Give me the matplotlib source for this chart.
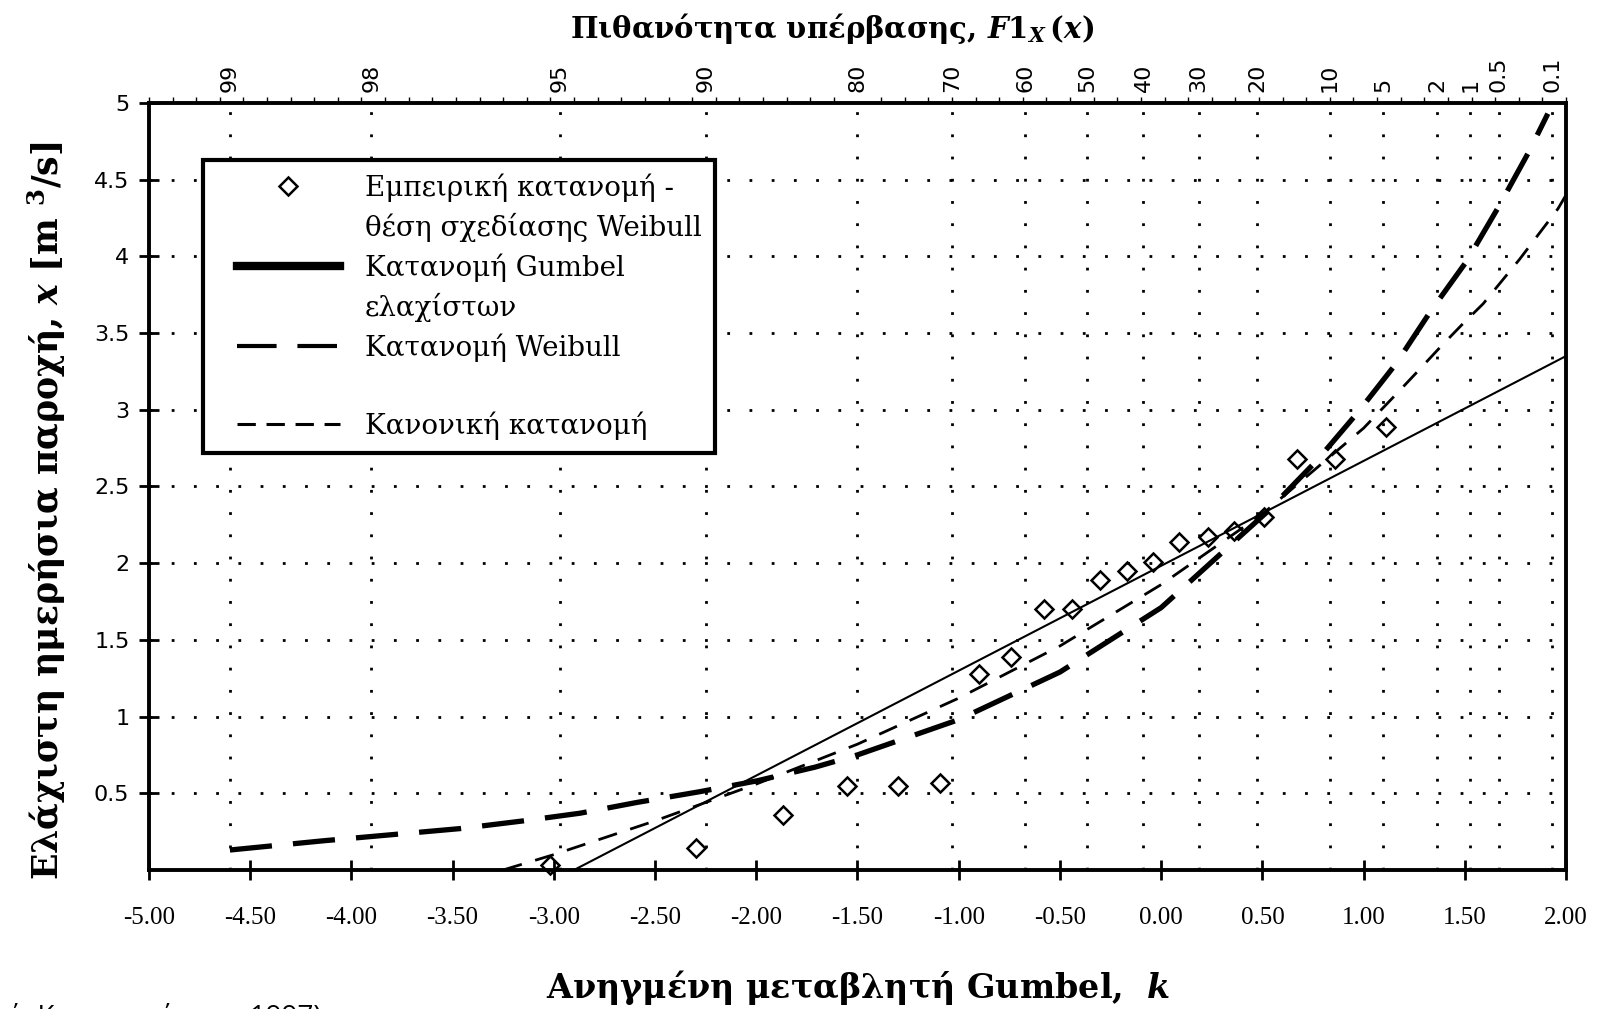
import matplotlib.pyplot as plt
import numpy as np
from matplotlib.lines import Line2D
from matplotlib.legend_handler import HandlerLine2D

plt.rcParams['axes.unicode_minus'] = False
plt.rcParams['mathtext.fontset'] = 'custom'
plt.rcParams['mathtext.rm'] = 'DejaVu Serif:bold'
plt.rcParams['mathtext.it'] = 'DejaVu Serif:italic:bold'
plt.rcParams['mathtext.bf'] = 'DejaVu Serif:bold'

# empirical distribution, Weibull plotting position (Gumbel reduced variate k)
emp_k = [-3.02, -2.30, -1.87, -1.55, -1.30, -1.09, -0.90, -0.74, -0.58, -0.44,
         -0.30, -0.17, -0.04, 0.09, 0.23, 0.36, 0.51, 0.67, 0.86, 1.11]
emp_x = [0.03, 0.14, 0.36, 0.55, 0.55, 0.57, 1.28, 1.39, 1.70, 1.70,
         1.89, 1.95, 2.01, 2.14, 2.17, 2.21, 2.30, 2.68, 2.68, 2.89]

# Gumbel of minima (straight line)
gumbel_k = [-2.90, 2.00]
gumbel_x = [0.00, 3.35]

# Weibull
weibull_k = [-4.60, -4.14, -3.80, -3.46, -3.15, -2.87, -2.59, -2.28, -2.00, -1.71,
             -1.50, -1.00, -0.50, 0.00, 0.52, 0.77, 0.97, 1.16, 1.33, 1.51, 1.67, 1.82, 1.91]
weibull_x = [0.13, 0.19, 0.23, 0.27, 0.32, 0.37, 0.44, 0.51, 0.58, 0.67,
             0.75, 0.98, 1.29, 1.71, 2.33, 2.67, 2.98, 3.30, 3.64, 3.97, 4.33, 4.69, 4.93]

# normal
normal_k = [-3.25, -3.00, -2.50, -2.00, -1.50, -1.00, -0.50, 0.00, 0.50, 1.00,
            1.16, 1.26, 1.38, 1.49, 1.59, 1.77, 1.96, 2.00]
normal_x = [0.00, 0.10, 0.32, 0.56, 0.82, 1.12, 1.46, 1.86, 2.32, 2.88,
            3.10, 3.24, 3.41, 3.56, 3.69, 3.98, 4.31, 4.40]

prob_labels = ['99', '98', '95', '90', '80', '70', '60', '50', '40', '30',
               '20', '10', '5', '2', '1', '0.5', '0.1']
y_ticks = [0.5, 1, 1.5, 2, 2.5, 3, 3.5, 4, 4.5, 5]
x_ticks = np.arange(-5, 2.01, 0.5)

serif = 'DejaVu Serif'

fig = plt.figure(figsize=(16.1, 10.09), dpi=100)
ax = fig.add_axes([0.0925, 0.1378, 0.8802, 0.7602])
ax.set_xlim(-5, 2)
ax.set_ylim(0, 5)

# grid (exceedance probability positions on the Gumbel paper)
prob_k = np.log(-np.log(np.array([float(p) for p in prob_labels]) / 100))
dots = (0, (1, 7))
for k in prob_k:
    ax.axvline(k, color='black', lw=2.0, ls=dots, zorder=1)
for y in y_ticks[:-1]:
    ax.axhline(y, color='black', lw=2.0, ls=dots, zorder=1)

ax.plot(gumbel_k, gumbel_x, color='black', lw=1.5, zorder=3)
ax.plot(weibull_k, weibull_x, color='black', lw=3.8, ls=(0, (8, 4)), zorder=3)
ax.plot(normal_k, normal_x, color='black', lw=2.0, ls=(0, (7, 5)), zorder=3)
ax.plot(emp_k, emp_x, ls='none', marker='D', ms=9.5, mfc='none', mec='black',
        mew=1.8, zorder=4, clip_on=False)

for s in ax.spines.values():
    s.set_linewidth(2.8)

ax.set_xticks(x_ticks)
ax.set_xticklabels(['%.2f' % v for v in x_ticks], fontfamily='Liberation Serif', fontsize=18)
ax.set_yticks(y_ticks)
ax.set_yticklabels(['%g' % v for v in y_ticks], fontfamily='DejaVu Sans', fontsize=16)
ax.tick_params(axis='x', direction='inout', length=14, width=2, pad=20)
ax.tick_params(axis='y', direction='inout', length=14, width=2, pad=7)

top = ax.secondary_xaxis('top')
top.set_xticks(prob_k)
top.set_xticklabels(prob_labels, rotation=90, fontfamily='DejaVu Sans', fontsize=16)
top.set_xticks(np.arange(-5, 2.001, 7 / 60), minor=True)
top.tick_params(which='major', length=0, pad=8)
top.tick_params(which='minor', direction='out', length=4, width=1)
top.spines['top'].set_visible(False)

# legend, one row per text line
h_emp = Line2D([], [], ls='none', marker='D', ms=9.5, mfc='none', mec='black', mew=1.8)
h_gum = Line2D([], [], color='black', lw=6)
h_wei = Line2D([], [], color='black', lw=3, ls=(0, (9.5, 5)))
h_nor = Line2D([], [], color='black', lw=2.2, ls=(0, (6, 3.5)))
h_none = Line2D([], [], ls='none')
handles = [h_emp, h_none, h_gum, h_none, h_wei, h_none, h_nor]
labels = ['Εμπειρική κατανομή -', 'θέση σχεδίασης Weibull', 'Κατανομή Gumbel',
          'ελαχίστων', 'Κατανομή Weibull', ' ', 'Κανονική κατανομή']
leg = ax.legend(handles, labels, loc='upper left', bbox_to_anchor=(0.038, 0.926),
                borderaxespad=0, prop={'family': serif, 'size': 20},
                handlelength=4.43, handletextpad=0.9, labelspacing=0.4,
                borderpad=0.5, fancybox=False, framealpha=1, edgecolor='black',
                handler_map={Line2D: HandlerLine2D(xpad=0.72)})
leg.get_frame().set_linewidth(3)
leg.set_zorder(6)

fig.text(0.517, 0.972, r'Πιθανότητα υπέρβασης, $F$1$_X\,(x)$', ha='center', va='center',
         fontfamily=serif, fontweight='bold', fontsize=21)
fig.text(0.029, 0.494, r'Ελάχιστη ημερήσια παροχή, $x$ [m $^{3}$/s]', ha='center', va='center',
         rotation=90, fontfamily=serif, fontweight='bold', fontsize=25)
fig.text(0.533, 0.021, r'Ανηγμένη μεταβλητή Gumbel,  $k$', ha='center', va='center',
         fontfamily=serif, fontweight='bold', fontsize=24)
fig.text(0.004, -0.016, 'ή, Κουτσογιάννης, 1997)', ha='left', va='baseline',
         fontfamily='Open Sans', fontsize=20)

fig.savefig('out.png', dpi=100)
